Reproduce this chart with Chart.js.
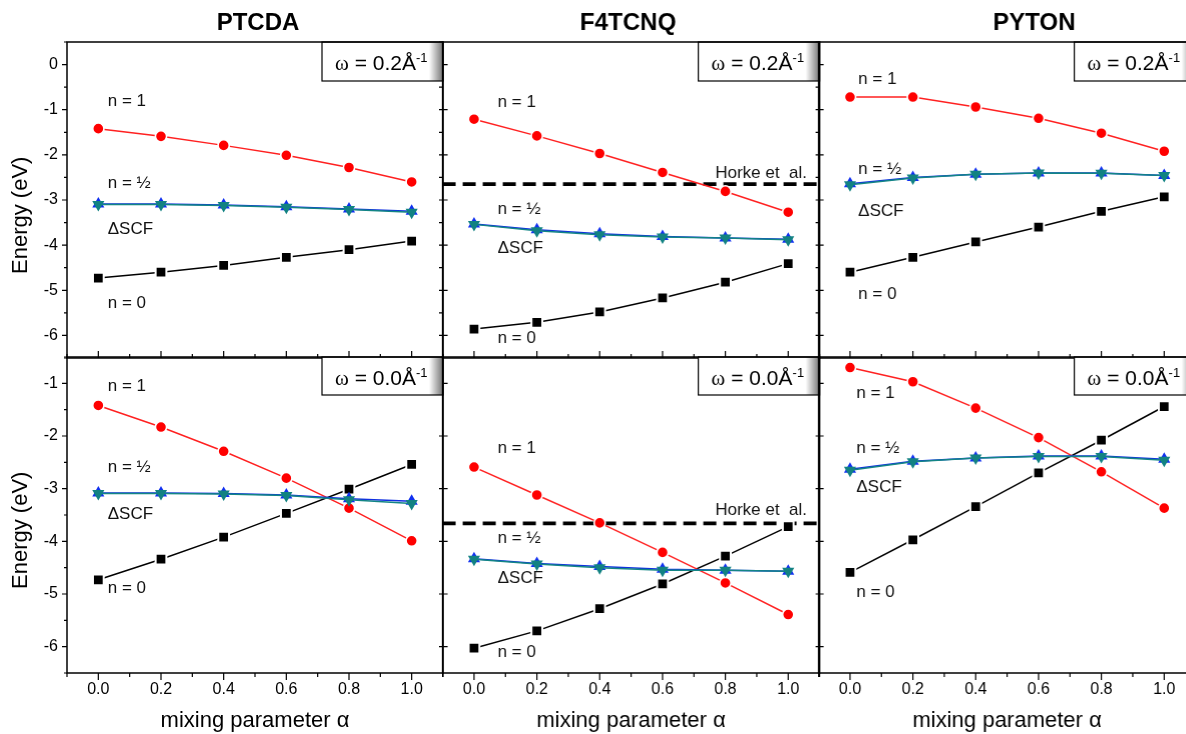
<!DOCTYPE html>
<html>
<head>
<meta charset="utf-8">
<script src="https://cdn.jsdelivr.net/npm/chart.js@4.4.1/dist/chart.umd.min.js"></script>
<style>
  html, body { margin: 0; padding: 0; background: #fff; }
  #page { position: relative; width: 1186px; height: 734px; overflow: hidden; background: #fff; }
  #page canvas { position: absolute; }
</style>
</head>
<body>
<div id="page"></div>
<script>
// mixing parameter alpha and axis ticks
const alphaValues = [0.0, 0.2, 0.4, 0.6, 0.8, 1.0];
const xTickValues = [0.0, 0.2, 0.4, 0.6, 0.8, 1.0];
const yTickValuesTop = [0, -1, -2, -3, -4, -5, -6];
const yTickValuesBottom = [-1, -2, -3, -4, -5, -6];
const moleculeNames = ["PTCDA", "F4TCNQ", "PYTON"];
const omegaValues = ["0.2", "0.0"];

// PTCDA
const ptcda02_n1 = [-1.42, -1.59, -1.79, -2.01, -2.28, -2.60];
const ptcda02_nHalf = [-3.09, -3.09, -3.11, -3.15, -3.20, -3.25];
const ptcda02_dscf = [-3.10, -3.10, -3.12, -3.16, -3.21, -3.27];
const ptcda02_n0 = [-4.73, -4.60, -4.45, -4.27, -4.10, -3.91];
const ptcda00_n1 = [-1.42, -1.83, -2.29, -2.80, -3.37, -3.99];
const ptcda00_nHalf = [-3.08, -3.08, -3.09, -3.12, -3.19, -3.24];
const ptcda00_dscf = [-3.09, -3.09, -3.10, -3.13, -3.21, -3.28];
const ptcda00_n0 = [-4.73, -4.34, -3.92, -3.47, -3.01, -2.54];

// F4TCNQ
const f4tcnq02_n1 = [-1.21, -1.58, -1.97, -2.39, -2.81, -3.27];
const f4tcnq02_nHalf = [-3.53, -3.66, -3.75, -3.81, -3.84, -3.87];
const f4tcnq02_dscf = [-3.54, -3.68, -3.77, -3.82, -3.84, -3.88];
const f4tcnq02_n0 = [-5.86, -5.71, -5.48, -5.17, -4.82, -4.41];
const f4tcnq00_n1 = [-2.59, -3.12, -3.65, -4.21, -4.79, -5.39];
const f4tcnq00_nHalf = [-4.33, -4.42, -4.48, -4.53, -4.55, -4.57];
const f4tcnq00_dscf = [-4.34, -4.43, -4.50, -4.55, -4.55, -4.57];
const f4tcnq00_n0 = [-6.03, -5.70, -5.28, -4.81, -4.28, -3.72];
const horkeLevels = [-2.65, -3.66]; // omega 0.2, omega 0.0

// PYTON
const pyton02_n1 = [-0.72, -0.72, -0.94, -1.19, -1.52, -1.92];
const pyton02_nHalf = [-2.64, -2.50, -2.43, -2.40, -2.40, -2.46];
const pyton02_dscf = [-2.66, -2.51, -2.43, -2.40, -2.41, -2.46];
const pyton02_n0 = [-4.60, -4.27, -3.93, -3.60, -3.25, -2.93];
const pyton00_n1 = [-0.70, -0.97, -1.47, -2.03, -2.68, -3.37];
const pyton00_nHalf = [-2.63, -2.48, -2.42, -2.38, -2.38, -2.44];
const pyton00_dscf = [-2.65, -2.49, -2.42, -2.39, -2.39, -2.46];
const pyton00_n0 = [-4.59, -3.97, -3.34, -2.70, -2.08, -1.44];

// page layout
const PANEL_LEFT = [67, 443, 819];
const PANEL_TOP = [42, 357];
const PANEL_W = 376, PANEL_H = 316;
const TITLE_DX = [3, -3, 27];
const labelTexts = ["n = 1", "n = \u00bd", "\u0394SCF", "n = 0"];

const panels = [
  { col: 0, row: 0, n1: ptcda02_n1, nHalf: ptcda02_nHalf, dscf: ptcda02_dscf, n0: ptcda02_n0, horke: null,
    spots: [[0.03, -0.82], [0.03, -2.64], [0.03, -3.64], [0.03, -5.28]] },
  { col: 0, row: 1, n1: ptcda00_n1, nHalf: ptcda00_nHalf, dscf: ptcda00_dscf, n0: ptcda00_n0, horke: null,
    spots: [[0.03, -1.06], [0.03, -2.60], [0.03, -3.48], [0.03, -4.90]] },
  { col: 1, row: 0, n1: f4tcnq02_n1, nHalf: f4tcnq02_nHalf, dscf: f4tcnq02_dscf, n0: f4tcnq02_n0, horke: horkeLevels[0],
    spots: [[0.075, -0.84], [0.075, -3.20], [0.075, -4.08], [0.075, -6.07]], horkeSpot: [1.06, -2.40] },
  { col: 1, row: 1, n1: f4tcnq00_n1, nHalf: f4tcnq00_nHalf, dscf: f4tcnq00_dscf, n0: f4tcnq00_n0, horke: horkeLevels[1],
    spots: [[0.075, -2.24], [0.075, -3.95], [0.075, -4.71], [0.075, -6.11]], horkeSpot: [1.06, -3.42] },
  { col: 2, row: 0, n1: pyton02_n1, nHalf: pyton02_nHalf, dscf: pyton02_dscf, n0: pyton02_n0, horke: null,
    spots: [[0.026, -0.33], [0.026, -2.31], [0.026, -3.24], [0.026, -5.08]] },
  { col: 2, row: 1, n1: pyton00_n1, nHalf: pyton00_nHalf, dscf: pyton00_dscf, n0: pyton00_n0, horke: null,
    spots: [[0.02, -1.18], [0.02, -2.24], [0.02, -2.98], [0.02, -4.96]] }
];

Chart.defaults.font.family = "'Liberation Sans', Arial, sans-serif";
Chart.defaults.color = '#000';

function seriesPoints(values) {
  return alphaValues.map((a, i) => ({ x: a, y: values[i] }));
}

function buildDatasets(p) {
  const sets = [
    { data: seriesPoints(p.dscf), borderColor: '#138585', borderWidth: 1.5,
      pointStyle: 'triangle', pointRotation: 180, pointRadius: 7, pointBorderWidth: 0,
      pointBackgroundColor: '#128282' },
    { data: seriesPoints(p.nHalf), borderColor: '#1030e0', borderWidth: 1.5,
      pointStyle: 'triangle', pointRadius: 7, pointBorderWidth: 0,
      pointBackgroundColor: '#1030f0' },
    { data: seriesPoints(p.n1), borderColor: '#ff2020', borderWidth: 1.5,
      pointStyle: 'circle', pointRadius: 5.6, pointBorderWidth: 1.6,
      pointBackgroundColor: '#ff0000', pointBorderColor: '#fff' },
    { data: seriesPoints(p.n0), borderColor: '#000', borderWidth: 1.5,
      pointStyle: 'rect', pointRadius: 7.6, pointBorderWidth: 2,
      pointBackgroundColor: '#000', pointBorderColor: '#fff' }
  ];
  if (p.horke !== null) {
    sets.push({ data: [{ x: -0.1, y: p.horke }, { x: 1.1, y: p.horke }],
      borderColor: '#000', borderWidth: 3.8, borderDash: [13, 7], pointRadius: 0 });
  }
  return sets;
}

function makeDecor(p) {
  return {
    id: 'panelDecor',
    afterDraw(chart) {
      const ctx = chart.ctx, ca = chart.chartArea;
      const xs = chart.scales.x, ys = chart.scales.y;
      ctx.save();
      ctx.strokeStyle = '#000';

      // tick marks
      ctx.lineWidth = 1.2;
      ctx.beginPath();
      const xdir = p.row === 0 ? -1 : 1;
      for (let k = -1; k <= 11; k++) {
        const px = xs.getPixelForValue(k / 10);
        const len = k % 2 === 0 ? 7 : 4;
        ctx.moveTo(px, ca.bottom);
        ctx.lineTo(px, ca.bottom + xdir * len);
      }
      for (let k = Math.ceil(ys.min * 2); k <= Math.floor(ys.max * 2); k++) {
        const py = ys.getPixelForValue(k / 2);
        const major = k % 2 === 0;
        if (p.col === 0) {
          ctx.moveTo(ca.left, py); ctx.lineTo(ca.left - (major ? 5 : 3), py);
        } else if (major) {
          ctx.moveTo(ca.left, py); ctx.lineTo(ca.left + 5, py);
        }
        if (p.row === 0 || major) {
          ctx.moveTo(ca.right, py); ctx.lineTo(ca.right - 4, py);
        }
      }
      ctx.stroke();

      // omega box
      const bw = 121, bh = p.row === 0 ? 39 : 38;
      const bx = ca.right - bw, by = ca.top;
      ctx.fillStyle = '#fff';
      ctx.fillRect(bx, by, bw, bh);
      const g = ctx.createLinearGradient(ca.right - 14, 0, ca.right, 0);
      g.addColorStop(0, 'rgba(0,0,0,0)');
      g.addColorStop(1, 'rgba(0,0,0,0.55)');
      ctx.fillStyle = g;
      ctx.fillRect(ca.right - 14, by, 14, bh);
      ctx.lineWidth = 1.2;
      ctx.strokeRect(bx, by, bw, bh);
      ctx.fillStyle = '#000';
      ctx.textAlign = 'left';
      ctx.textBaseline = 'alphabetic';
      let tx = bx + 13;
      const base = by + 28;
      ctx.font = "21px 'Liberation Serif', serif";
      ctx.fillText('\u03c9', tx, base);
      tx += ctx.measureText('\u03c9').width;
      ctx.font = "21px 'Liberation Sans', Arial, sans-serif";
      const main = ' = ' + omegaValues[p.row] + '\u00c5';
      ctx.fillText(main, tx, base);
      tx += ctx.measureText(main).width;
      ctx.font = "13px 'Liberation Sans', Arial, sans-serif";
      ctx.fillText('-1', tx, base - 8);

      // frame
      ctx.lineWidth = 1.5;
      ctx.strokeRect(ca.left, ca.top, ca.right - ca.left, ca.bottom - ca.top);

      // series labels
      ctx.font = "17px 'Liberation Sans', Arial, sans-serif";
      ctx.fillStyle = '#111';
      ctx.textBaseline = 'middle';
      p.spots.forEach((s, i) => {
        ctx.fillText(labelTexts[i], xs.getPixelForValue(s[0]), ys.getPixelForValue(s[1]));
      });
      if (p.horkeSpot) {
        ctx.textAlign = 'right';
        ctx.fillText('Horke et  al.', xs.getPixelForValue(p.horkeSpot[0]), ys.getPixelForValue(p.horkeSpot[1]));
      }

      // column title
      if (p.row === 0) {
        ctx.textAlign = 'center';
        ctx.fillStyle = '#000';
        ctx.font = "bold 24px 'Liberation Sans', Arial, sans-serif";
        ctx.fillText(moleculeNames[p.col], (ca.left + ca.right) / 2 + TITLE_DX[p.col], ca.top - 19);
      }
      ctx.restore();
    }
  };
}

const page = document.getElementById('page');

panels.forEach(p => {
  const axisW = p.col === 0 ? 67 : 0;
  const axisH = p.row === 1 ? 61 : 0;
  const pad = { top: p.row === 0 ? 42 : 20, bottom: p.row === 0 ? 20 : 0, left: 0, right: 12 };
  const canvas = document.createElement('canvas');
  canvas.width = pad.left + axisW + PANEL_W + pad.right;
  canvas.height = pad.top + PANEL_H + axisH + pad.bottom;
  page.appendChild(canvas);

  const yTicks = p.row === 0 ? yTickValuesTop : yTickValuesBottom;
  const chart = new Chart(canvas, {
    type: 'line',
    data: { datasets: buildDatasets(p) },
    options: {
      responsive: false,
      maintainAspectRatio: false,
      animation: false,
      layout: { padding: pad },
      elements: { line: { tension: 0 } },
      plugins: { legend: { display: false }, tooltip: { enabled: false } },
      scales: {
        x: {
          type: 'linear', min: -0.1, max: 1.1,
          afterBuildTicks: s => { s.ticks = xTickValues.map(v => ({ value: v })); },
          afterFit: s => { s.height = axisH; },
          grid: { display: false, drawTicks: false },
          border: { display: false },
          ticks: { display: p.row === 1, padding: 7, color: '#000', font: { size: 16 },
                   callback: v => v.toFixed(1) },
          title: { display: p.row === 1, text: 'mixing parameter \u03b1', color: '#000',
                   font: { size: 22 }, padding: 0 }
        },
        y: {
          type: 'linear', min: -6.5, max: p.row === 0 ? 0.5 : -0.5,
          afterBuildTicks: s => { s.ticks = yTicks.map(v => ({ value: v })); },
          afterFit: s => { s.width = axisW; },
          grid: { display: false, drawTicks: false },
          border: { display: false },
          ticks: { display: p.col === 0, padding: 9, color: '#000', font: { size: 16 },
                   callback: v => String(v) },
          title: { display: p.col === 0, text: 'Energy (eV)     ', color: '#000',
                   font: { size: 22 }, padding: { top: 8, bottom: 0 } }
        }
      }
    },
    plugins: [makeDecor(p)]
  });

  let ca = chart.chartArea;
  const dw = PANEL_W - (ca.right - ca.left);
  const dh = PANEL_H - (ca.bottom - ca.top);
  if (Math.abs(dw) > 0.5 || Math.abs(dh) > 0.5) {
    chart.resize(chart.width + dw, chart.height + dh);
    ca = chart.chartArea;
  }
  canvas.style.left = (PANEL_LEFT[p.col] - ca.left) + 'px';
  canvas.style.top = (PANEL_TOP[p.row] - ca.top) + 'px';
});
</script>
</body>
</html>
